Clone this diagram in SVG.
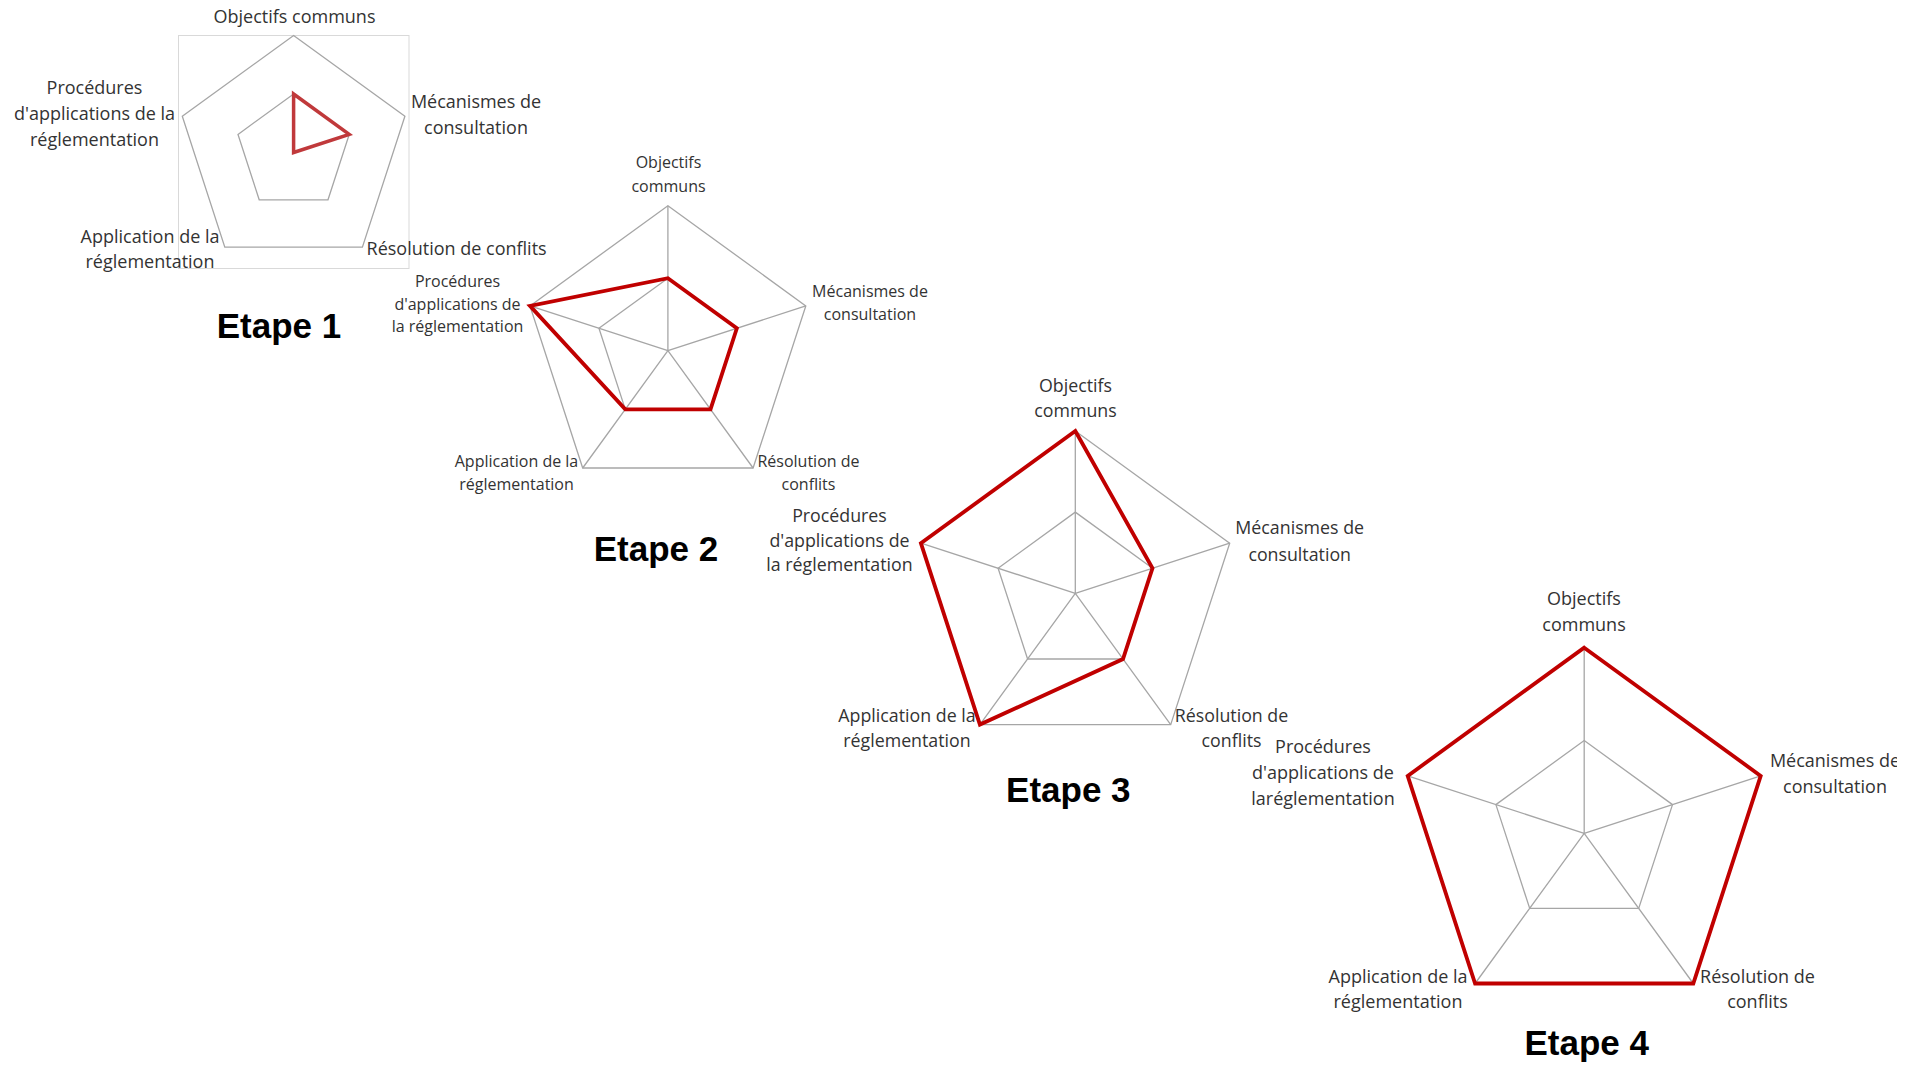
<svg xmlns="http://www.w3.org/2000/svg" width="1919" height="1068" viewBox="0 0 1919 1068">
<style>
.grid{fill:none;stroke:#a6a6a6;stroke-width:1.3}
.frame{fill:none;stroke:#d9d9d9;stroke-width:1}
.s1{fill:none;stroke:#c0393b;stroke-width:3.5;stroke-linejoin:miter}
.s{fill:none;stroke:#c00000;stroke-width:3.8;stroke-linejoin:miter}
.lbl{font-family:"Open Sans","Liberation Sans",sans-serif;fill:#333333;text-anchor:middle}
.c1{font-size:18px}
.c2{font-size:16px}
.c3{font-size:17.8px}
.c4{font-size:18px}
.title{font-family:"Liberation Sans",Arial,sans-serif;font-weight:bold;font-size:35px;fill:#000;text-anchor:middle}
</style>
<defs>
<clipPath id="clip4"><rect x="1700" y="740" width="197" height="40"/></clipPath>
</defs>
<rect width="1919" height="1068" fill="#fff"/>

<g id="chart1">
<rect class="frame" x="178.5" y="35.5" width="230.5" height="233"/>
<polygon class="grid" points="293.6,35.5 404.9,116.3 362.4,247.2 224.8,247.2 182.3,116.3"/>
<polygon class="grid" points="293.6,94 349.2,134.4 328,199.8 259.2,199.8 238,134.4"/>
<polygon class="s1" points="293.6,94 349.2,134.4 293.6,152.5"/>
<g class="lbl c1">
<text x="294.5" y="22.7">Objectifs communs</text>
<text x="476" y="108.3">Mécanismes de</text>
<text x="476" y="133.5">consultation</text>
<text x="456.6" y="255">Résolution de conflits</text>
<text x="150" y="243">Application de la</text>
<text x="150" y="268">réglementation</text>
<text x="94.5" y="94">Procédures</text>
<text x="94.5" y="120">d'applications de la</text>
<text x="94.5" y="145.7">réglementation</text>
</g>
<text class="title" x="279" y="338">Etape 1</text>
</g>

<g id="chart2">
<polygon class="grid" points="667.9,205.7 805.8,305.9 753.1,468 582.7,468 530,305.9"/>
<polygon class="grid" points="667.9,278.2 736.85,328.3 710.5,409.35 625.3,409.35 598.95,328.3"/>
<path class="grid" d="M667.9,350.7L667.9,205.7M667.9,350.7L805.8,305.9M667.9,350.7L753.1,468M667.9,350.7L582.7,468M667.9,350.7L530,305.9"/>
<polygon class="s" points="667.9,278.2 736.85,328.3 710.5,409.35 625.3,409.35 530,305.9"/>
<g class="lbl c2">
<text x="668.5" y="168.3">Objectifs</text>
<text x="668.5" y="191.7">communs</text>
<text x="870" y="296.7">Mécanismes de</text>
<text x="870" y="320">consultation</text>
<text x="808.5" y="467.3">Résolution de</text>
<text x="808.5" y="490">conflits</text>
<text x="516.5" y="467.3">Application de la</text>
<text x="516.5" y="490">réglementation</text>
<text x="457.5" y="286.7">Procédures</text>
<text x="457.5" y="310">d'applications de</text>
<text x="457.5" y="331.7">la réglementation</text>
</g>
<text class="title" x="656" y="561">Etape 2</text>
</g>

<g id="chart3">
<polygon class="grid" points="1075.3,431 1229.7,543.2 1170.7,724.6 979.9,724.6 920.9,543.2"/>
<polygon class="grid" points="1075.3,512.15 1152.5,568.2 1123,659 1027.6,659 998.1,568.2"/>
<path class="grid" d="M1075.3,593.3L1075.3,431M1075.3,593.3L1229.7,543.2M1075.3,593.3L1170.7,724.6M1075.3,593.3L979.9,724.6M1075.3,593.3L920.9,543.2"/>
<polygon class="s" points="1075.3,431 1152.5,568.2 1123,659 979.9,724.6 920.9,543.2"/>
<g class="lbl c3">
<text x="1075.5" y="391.7">Objectifs</text>
<text x="1075.5" y="417.3">communs</text>
<text x="1299.7" y="534.3">Mécanismes de</text>
<text x="1299.7" y="560.7">consultation</text>
<text x="1231.5" y="721.7">Résolution de</text>
<text x="1231.5" y="746.7">conflits</text>
<text x="907" y="721.7">Application de la</text>
<text x="907" y="746.7">réglementation</text>
<text x="839.5" y="521.7">Procédures</text>
<text x="839.5" y="546.7">d'applications de</text>
<text x="839.5" y="570.7">la réglementation</text>
</g>
<text class="title" x="1068.3" y="801.5">Etape 3</text>
</g>

<g id="chart4">
<polygon class="grid" points="1584.2,647.7 1760.7,775.9 1693.3,983.5 1475.1,983.5 1407.7,775.9"/>
<polygon class="grid" points="1584.2,740.5 1672.5,804.6 1638.7,908.4 1529.7,908.4 1495.9,804.6"/>
<path class="grid" d="M1584.2,833.3L1584.2,647.7M1584.2,833.3L1760.7,775.9M1584.2,833.3L1693.3,983.5M1584.2,833.3L1475.1,983.5M1584.2,833.3L1407.7,775.9"/>
<polygon class="s" points="1584.2,647.7 1760.7,775.9 1693.3,983.5 1475.1,983.5 1407.7,775.9"/>
<g class="lbl c4">
<text x="1584" y="605">Objectifs</text>
<text x="1584" y="630.7">communs</text>
<text x="1835" y="766.7" clip-path="url(#clip4)">Mécanismes de</text>
<text x="1835" y="792.7">consultation</text>
<text x="1757.5" y="983.3">Résolution de</text>
<text x="1757.5" y="1008.3">conflits</text>
<text x="1398" y="983.3">Application de la</text>
<text x="1398" y="1008.3">réglementation</text>
<text x="1323" y="753.3">Procédures</text>
<text x="1323" y="779.3">d'applications de</text>
<text x="1323" y="805">laréglementation</text>
</g>
<text class="title" x="1586.7" y="1055">Etape 4</text>
</g>

<g id="connectors"></g>
</svg>
